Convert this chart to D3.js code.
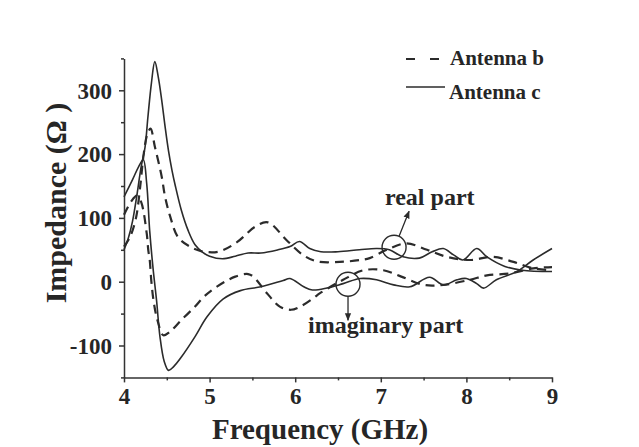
<!DOCTYPE html>
<html>
<head>
<meta charset="utf-8">
<script src="https://cdn.jsdelivr.net/npm/d3@7"></script>
<style>
  html, body { margin: 0; padding: 0; background: #fff; }
  svg text { font-family: "Liberation Serif", "Times New Roman", serif; font-weight: bold; fill: #262626; }
</style>
</head>
<body>
<div id="chart"></div>
<script>
// データ
const xTicks = [4, 5, 6, 7, 8, 9];
const yTicks = [-100, 0, 100, 200, 300];

// Antenna b 実部（破線）
const bRealFreq = [4.0, 4.07, 4.14, 4.19, 4.23, 4.27, 4.31, 4.36, 4.44, 4.48, 4.54, 4.63, 4.77, 4.9, 5.1, 5.32, 5.53, 5.68, 5.9, 6.09, 6.25, 6.52, 6.76, 6.87, 7.07, 7.3, 7.54, 7.77, 8.04, 8.31, 8.55, 8.78, 9.0];
const bRealVal  = [55, 70, 100, 150, 200, 230, 240, 212, 165, 133, 102, 70, 55, 48, 47, 62, 86, 93, 65, 42, 32, 31, 34, 37, 50, 60, 50, 39, 34, 39, 31, 21, 18];

// Antenna b 虚部（破線）
const bImagFreq = [4.0, 4.08, 4.15, 4.2, 4.265, 4.284, 4.3, 4.32, 4.35, 4.39, 4.46, 4.54, 4.67, 4.83, 4.93, 5.06, 5.3, 5.45, 5.51, 5.67, 5.82, 5.95, 6.06, 6.21, 6.29, 6.56, 6.8, 7.03, 7.24, 7.5, 7.73, 8.04, 8.24, 8.51, 8.78, 9.0];
const bImagVal  = [105, 125, 135, 125, 76, 49, 35, 0, -34, -60, -84, -78, -60, -39, -24, -10, 8, 12, 8, -18, -39, -44, -39, -26, -18, 3, 18, 18, 8, -5, -5, 3, 10, 13, 21, 23];

// Antenna c 実部（実線）
const cRealFreq = [4.0, 4.05, 4.1, 4.15, 4.2, 4.245, 4.28, 4.32, 4.36, 4.4, 4.44, 4.48, 4.52, 4.56, 4.6, 4.67, 4.75, 4.83, 4.92, 5.0, 5.15, 5.3, 5.45, 5.6, 5.8, 5.94, 6.05, 6.17, 6.3, 6.5, 6.75, 6.95, 7.1, 7.26, 7.45, 7.6, 7.73, 7.85, 7.96, 8.12, 8.24, 8.45, 8.65, 9.0];
const cRealVal  = [50, 68, 95, 135, 180, 210, 259, 311, 345, 321, 285, 243, 205, 175, 150, 112, 80, 58, 46, 40, 36, 40, 45, 45, 50, 55, 63, 52, 47, 47, 50, 52, 50, 39, 37, 47, 52, 42, 34, 52, 39, 24, 18, 16];

// Antenna c 虚部（実線）
const cImagFreq = [4.0, 4.1, 4.17, 4.225, 4.265, 4.3, 4.34, 4.38, 4.42, 4.47, 4.52, 4.58, 4.67, 4.83, 4.97, 5.16, 5.36, 5.6, 5.86, 5.94, 6.1, 6.2, 6.37, 6.56, 6.76, 6.95, 7.15, 7.34, 7.57, 7.73, 7.89, 8.0, 8.12, 8.2, 8.35, 8.59, 8.78, 9.0];
const cImagVal  = [133, 160, 180, 191, 154, 80, 20, -29, -86, -125, -139, -133, -118, -86, -55, -27, -14, -8, 2, 5, -8, -13, -10, -3, 5, 3, -5, -8, 7, -5, 3, 5, -3, -10, 3, 16, 34, 52];

const legendNames = ["Antenna b", "Antenna c"];

document.addEventListener("DOMContentLoaded", function() {
	const width = 639, height = 447;
	const svg = d3.select("#chart").append("svg").attr("width", width).attr("height", height);

	const x = d3.scaleLinear().domain([4, 9]).range([124, 552]);
	const y = d3.scaleLinear().domain([-150, 350]).range([377.4, 58.4]);

	const axisColor = "#333";
	const fmt = d => String(d); // ハイフンのマイナス記号

	// 副目盛り
	svg.append("g")
		.attr("transform", "translate(0,377.4)")
		.call(d3.axisBottom(x).tickValues([4.5, 5.5, 6.5, 7.5, 8.5]).tickSize(3).tickFormat(""))
		.call(g => g.select(".domain").remove());
	svg.append("g")
		.attr("transform", "translate(124,0)")
		.call(d3.axisLeft(y).tickValues([-150, -50, 50, 150, 250, 350]).tickSize(3).tickFormat(""))
		.call(g => g.select(".domain").remove());

	// 主目盛り
	const xAxis = svg.append("g")
		.attr("transform", "translate(0,377.4)")
		.call(d3.axisBottom(x).tickValues(xTicks).tickFormat(fmt).tickSize(5).tickSizeOuter(0).tickPadding(5));
	const yAxis = svg.append("g")
		.attr("transform", "translate(124,0)")
		.call(d3.axisLeft(y).tickValues(yTicks).tickFormat(fmt).tickSize(5).tickSizeOuter(0).tickPadding(7));

	svg.selectAll(".tick line").attr("stroke", axisColor).attr("stroke-width", 1.5);
	svg.selectAll(".domain").attr("stroke", axisColor).attr("stroke-width", 1.5);
	xAxis.selectAll("text").attr("font-size", 23).attr("fill", "#262626");
	yAxis.selectAll("text").attr("font-size", 23).attr("fill", "#262626").attr("dy", "0.34em");

	// 軸タイトル
	svg.append("text")
		.attr("x", 320).attr("y", 439)
		.attr("text-anchor", "middle")
		.attr("font-size", 29)
		.text("Frequency (GHz)");
	svg.append("text")
		.attr("transform", "translate(66,203) rotate(-90)")
		.attr("text-anchor", "middle")
		.attr("font-size", 30)
		.text("Impedance (Ω )");

	// 曲線
	const line = d3.line()
		.x(d => x(d[0]))
		.y(d => y(d[1]))
		.curve(d3.curveCatmullRom.alpha(0.5));

	const series = [
		{ f: bRealFreq, v: bRealVal, dash: true },
		{ f: bImagFreq, v: bImagVal, dash: true },
		{ f: cRealFreq, v: cRealVal, dash: false },
		{ f: cImagFreq, v: cImagVal, dash: false }
	];

	for (let s of series) {
		let pts = s.f.map((f, i) => [f, s.v[i]]);
		svg.append("path")
			.attr("d", line(pts))
			.attr("fill", "none")
			.attr("stroke", "#2b2b2b")
			.attr("stroke-width", s.dash ? 2.2 : 1.6)
			.attr("stroke-dasharray", s.dash ? "9,6" : null);
	}

	// 注記（円と矢印）
	const defs = svg.append("defs");
	defs.append("marker")
		.attr("id", "arr")
		.attr("viewBox", "0 0 10 10")
		.attr("refX", 9).attr("refY", 5)
		.attr("markerWidth", 6).attr("markerHeight", 6)
		.attr("orient", "auto")
		.append("path").attr("d", "M0,1 L10,5 L0,9 Z").attr("fill", "#2b2b2b");

	const realMark = [7.155, 54];
	const imagMark = [6.617, -4];

	svg.append("circle")
		.attr("cx", x(realMark[0])).attr("cy", y(realMark[1])).attr("r", 12)
		.attr("fill", "none").attr("stroke", "#2b2b2b").attr("stroke-width", 1.4);
	svg.append("line")
		.attr("x1", x(realMark[0]) + 5).attr("y1", y(realMark[1]) - 11)
		.attr("x2", x(realMark[0]) + 15).attr("y2", y(realMark[1]) - 36)
		.attr("stroke", "#2b2b2b").attr("stroke-width", 1.3)
		.attr("marker-end", "url(#arr)");
	svg.append("text")
		.attr("x", 385).attr("y", 205)
		.attr("font-size", 24)
		.text("real part");

	svg.append("circle")
		.attr("cx", x(imagMark[0])).attr("cy", y(imagMark[1])).attr("r", 12)
		.attr("fill", "none").attr("stroke", "#2b2b2b").attr("stroke-width", 1.4);
	svg.append("line")
		.attr("x1", x(imagMark[0])).attr("y1", y(imagMark[1]) + 12)
		.attr("x2", x(imagMark[0])).attr("y2", y(imagMark[1]) + 36)
		.attr("stroke", "#2b2b2b").attr("stroke-width", 1.3)
		.attr("marker-end", "url(#arr)");
	svg.append("text")
		.attr("x", 308).attr("y", 333)
		.attr("font-size", 24)
		.text("imaginary part");

	// 凡例
	const lg = svg.append("g");
	lg.append("line")
		.attr("x1", 406).attr("y1", 59).attr("x2", 440).attr("y2", 59)
		.attr("stroke", "#2b2b2b").attr("stroke-width", 2.2).attr("stroke-dasharray", "9,15");
	lg.append("text").attr("x", 450).attr("y", 65).attr("font-size", 21).text(legendNames[0]);
	lg.append("line")
		.attr("x1", 406).attr("y1", 87).attr("x2", 445).attr("y2", 87)
		.attr("stroke", "#2b2b2b").attr("stroke-width", 1.6);
	lg.append("text").attr("x", 449).attr("y", 99).attr("font-size", 21).text(legendNames[1]);
});
</script>
</body>
</html>
